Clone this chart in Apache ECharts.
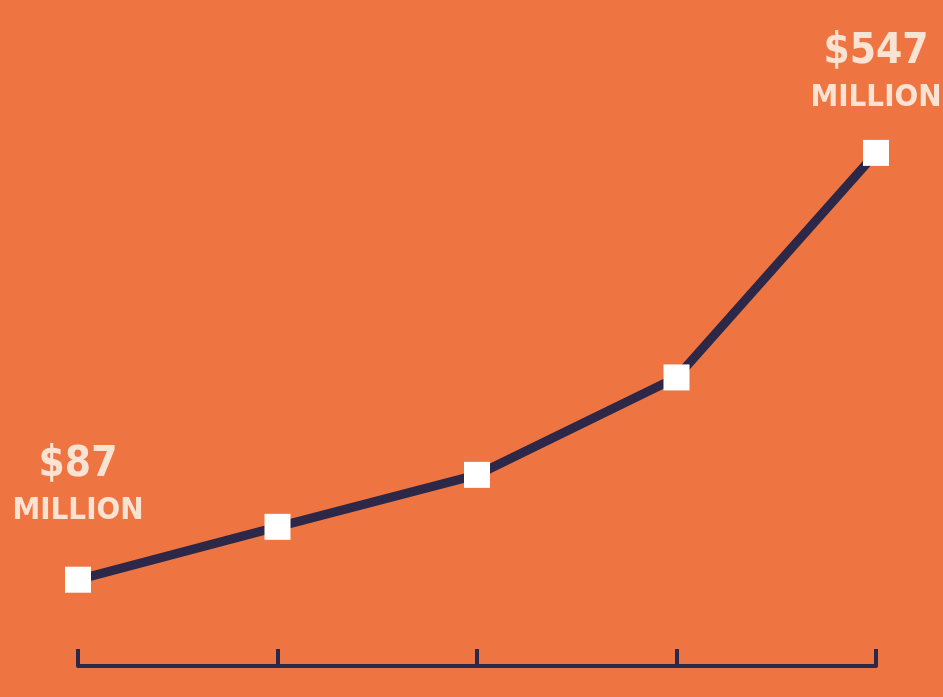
<!DOCTYPE html>
<html><head><meta charset="utf-8">
<script src="https://cdn.jsdelivr.net/npm/echarts@6/dist/echarts.min.js"></script>
<style>html,body{margin:0;padding:0;background:#ee7541;}#c{width:943px;height:697px;}</style>
</head><body><div id="c"></div>
<script>
const categories = ['P1', 'P2', 'P3', 'P4', 'P5'];
const values = [87, 144, 200, 305, 547];
const labelUnit = 'MILLION';

const FONT = "'DejaVu Sans Condensed', 'DejaVu Sans', sans-serif";
const chart = echarts.init(document.getElementById('c'));
const labelDist = {0: 37, 4: 23};
const data = values.map((v, i) => {
  const item = {value: v};
  if (labelDist[i] !== undefined) {
    item.label = {
      show: true, position: 'top', distance: labelDist[i],
      formatter: '{a|$' + v + '}\n{b|' + labelUnit + '}',
      rich: {
        a: {fontFamily: FONT, fontWeight: 'bold', fontSize: 42, color: '#fbe3d3', lineHeight: 54, align: 'center'},
        b: {fontFamily: FONT, fontWeight: 'bold', fontSize: 31, color: '#fbe3d3', lineHeight: 38, align: 'center'}
      }
    };
  }
  return item;
});

chart.setOption({
  backgroundColor: '#ee7541',
  animation: false,
  grid: {left: 78, right: 67, top: 100, bottom: 31, containLabel: false},
  xAxis: {
    type: 'category', data: categories, boundaryGap: false,
    axisLine: {onZero: false, lineStyle: {color: '#2e2848', width: 4}},
    axisTick: {show: true, inside: true, length: 17, alignWithLabel: true, lineStyle: {color: '#2e2848', width: 4}},
    axisLabel: {show: false}
  },
  yAxis: {type: 'value', min: -6, max: 604, show: false, splitLine: {show: false}},
  series: [{
    type: 'line', data: data,
    symbol: 'rect', symbolSize: 26,
    itemStyle: {color: '#ffffff', borderWidth: 0},
    lineStyle: {color: '#2e2848', width: 9},
    z: 3
  }]
});
</script></body></html>
